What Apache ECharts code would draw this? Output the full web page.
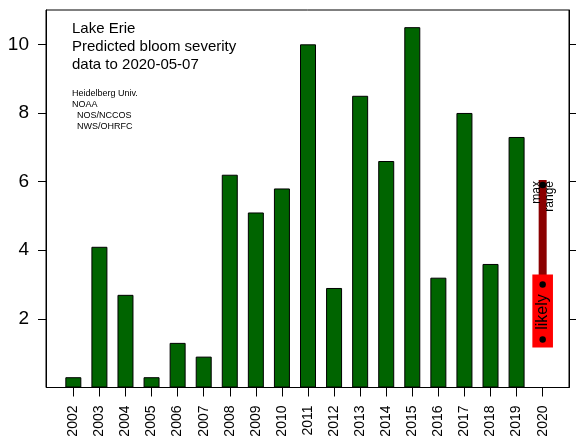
<!DOCTYPE html>
<html>
<head>
<meta charset="utf-8">
<script src="https://cdn.jsdelivr.net/npm/echarts@6/dist/echarts.min.js"></script>
<style>
html,body{margin:0;padding:0;background:#fff;}
#chart{width:576px;height:441px;}
</style>
</head>
<body>
<div id="chart"></div>
<script>
// ---- data ----
const years = ['2002','2003','2004','2005','2006','2007','2008','2009','2010','2011','2012','2013','2014','2015','2016','2017','2018','2019','2020'];
const severity = [0.3, 4.1, 2.7, 0.3, 1.3, 0.9, 6.2, 5.1, 5.8, 10.0, 2.9, 8.5, 6.6, 10.5, 3.2, 8.0, 3.6, 7.3, '-'];
const yTicks = [2, 4, 6, 8, 10];
const forecastYear = '2020';
const likelyLow = 1.4;
const likelyHigh = 3.0;
const maxRange = 5.9;
const titleLines = ['Lake Erie', 'Predicted bloom severity', 'data to 2020-05-07'];
const creditLines = ['Heidelberg Univ.', 'NOAA', '  NOS/NCCOS', '  NWS/OHRFC'];

const FONT = 'Liberation Sans, Arial, sans-serif';
const Y_MIN = 0, Y_MAX = 11;

const chart = echarts.init(document.getElementById('chart'), null, {renderer: 'canvas'});

const option = {
  backgroundColor: '#fff',
  animation: false,
  title: [
    {
      text: titleLines.join('\n'),
      left: 72, top: 20, padding: 0,
      textStyle: {fontFamily: FONT, fontSize: 15, fontWeight: 'normal', lineHeight: 18, color: '#000'}
    },
    {
      text: creditLines.join('\n'),
      left: 72, top: 88.5, padding: 0,
      textStyle: {fontFamily: FONT, fontSize: 9, fontWeight: 'normal', lineHeight: 10.9, color: '#000'}
    }
  ],
  grid: [
    {left: 46, right: 7, top: 10, bottom: 53.5, show: true, borderColor: '#000', borderWidth: 1, backgroundColor: 'transparent'},
    {left: 60.3, right: 20.3, top: 10, bottom: 53.5}
  ],
  xAxis: [
    {type: 'value', gridIndex: 0, show: false, min: 0, max: 1},
    {
      type: 'category', gridIndex: 1, data: years, boundaryGap: true,
      axisLine: {show: true, lineStyle: {color: '#000', width: 1}},
      axisTick: {show: true, alignWithLabel: true, length: 9, lineStyle: {color: '#000', width: 1}},
      axisLabel: {rotate: 90, margin: 18, fontSize: 14, color: '#000', fontFamily: FONT, interval: 0},
      splitLine: {show: false}
    }
  ],
  yAxis: [
    {
      type: 'value', gridIndex: 0, position: 'left', min: Y_MIN, max: Y_MAX,
      axisLine: {show: true, lineStyle: {color: '#000', width: 1}},
      axisTick: {show: true, length: 8, customValues: yTicks, lineStyle: {color: '#000'}},
      axisLabel: {show: true, customValues: yTicks, margin: 17, fontSize: 19, color: '#000', fontFamily: FONT},
      splitLine: {show: false}
    },
    {
      type: 'value', gridIndex: 0, position: 'right', min: Y_MIN, max: Y_MAX,
      axisLine: {show: true, lineStyle: {color: '#000', width: 1}},
      axisTick: {show: true, length: 7, customValues: yTicks, lineStyle: {color: '#000'}},
      axisLabel: {show: false},
      splitLine: {show: false}
    },
    {type: 'value', gridIndex: 1, min: Y_MIN, max: Y_MAX, show: false}
  ],
  series: [
    {
      type: 'bar', xAxisIndex: 1, yAxisIndex: 2,
      data: severity, barWidth: 16,
      itemStyle: {color: '#006400', borderColor: '#000', borderWidth: 1}
    },
    {
      type: 'custom', xAxisIndex: 1, yAxisIndex: 2, clip: false,
      data: [[years.indexOf(forecastYear), likelyLow, likelyHigh, maxRange]],
      encode: {x: 0, y: [1, 2, 3]},
      renderItem: function (params, api) {
        const xi = api.value(0);
        const pMax = api.coord([xi, api.value(3)]);
        const pHi = api.coord([xi, api.value(2)]);
        const pLo = api.coord([xi, api.value(1)]);
        const cx = pMax[0];
        return {
          type: 'group',
          children: [
            {type: 'rect', shape: {x: cx - 4, y: pMax[1] - 5, width: 8, height: pHi[1] - pMax[1] + 5}, style: {fill: '#8B0000'}},
            {type: 'rect', shape: {x: cx - 10.3, y: pHi[1] - 10, width: 20.6, height: (pLo[1] + 8) - (pHi[1] - 10)}, style: {fill: '#FF0000'}},
            {type: 'circle', shape: {cx: cx, cy: pMax[1], r: 3.3}, style: {fill: '#000'}},
            {type: 'circle', shape: {cx: cx, cy: pHi[1], r: 3.2}, style: {fill: '#000'}},
            {type: 'circle', shape: {cx: cx, cy: pLo[1], r: 3.2}, style: {fill: '#000'}},
            {type: 'text', x: cx, y: (pHi[1] + pLo[1]) / 2, rotation: Math.PI / 2,
              style: {text: 'likely', fontSize: 16, fontFamily: FONT, fill: '#000', align: 'center', verticalAlign: 'middle'}},
            {type: 'text', x: cx + 0.5, y: pMax[1] - 4, rotation: Math.PI / 2,
              style: {text: 'max\nrange', fontSize: 12, lineHeight: 13, fontFamily: FONT, fill: '#000', align: 'right', verticalAlign: 'middle'}}
          ]
        };
      }
    }
  ]
};
chart.setOption(option);
</script>
</body>
</html>
